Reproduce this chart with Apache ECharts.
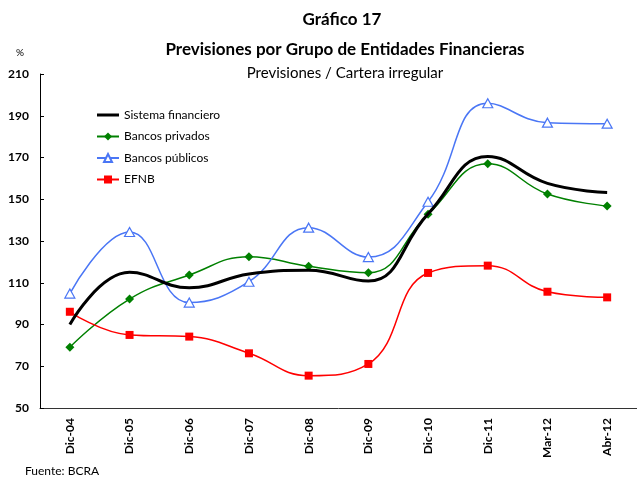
<!DOCTYPE html>
<html><head><meta charset="utf-8">
<script src="https://cdn.jsdelivr.net/npm/echarts@6/dist/echarts.min.js"></script>
<style>html,body{margin:0;padding:0;background:#fff}#c{width:637px;height:477px}</style>
</head><body><div id="c"></div>
<script>
const categories = ['Dic-04','Dic-05','Dic-06','Dic-07','Dic-08','Dic-09','Dic-10','Dic-11','Mar-12','Abr-12'];
const sistemaFinanciero = [90, 115, 107.6, 114.2, 116, 110.8, 143, 170.5, 157.6, 153.2];
const bancosPrivados = [79.1, 102.2, 113.7, 122.5, 117.9, 114.8, 142.8, 167, 152.5, 146.8];
const bancosPublicos = [104.8, 134.3, 100.5, 110.5, 136.4, 122.3, 148.8, 196, 186.7, 186.2];
const efnb = [96.1, 85, 84.2, 76.2, 65.5, 71.1, 114.7, 118.2, 105.7, 103];
const yTicks = {min: 50, max: 210, interval: 20};

const FONT = 'Lato, "Open Sans", sans-serif';
const chart = echarts.init(document.getElementById('c'));
chart.setOption({
  animation: false,
  textStyle: {fontFamily: FONT},
  title: [
    {text: 'Gráfico 17', left: 337, top: 6, textAlign: 'center', textStyle: {fontSize: 17, fontWeight: 'bold', color: '#000', fontFamily: FONT}},
    {text: 'Previsiones por Grupo de Entidades Financieras', left: 340, top: 36, textAlign: 'center', textStyle: {fontSize: 17, fontWeight: 'bold', color: '#000', fontFamily: FONT}},
    {text: 'Previsiones / Cartera irregular', left: 340, top: 61, textAlign: 'center', textStyle: {fontSize: 15, fontWeight: 'normal', color: '#000', fontFamily: FONT}},
    {text: '%', left: 11, top: 43, textStyle: {fontSize: 10, fontWeight: 'normal', color: '#000', fontFamily: FONT}},
    {text: 'Fuente: BCRA', left: 20, top: 460, textStyle: {fontSize: 12, fontWeight: 'normal', color: '#000', fontFamily: FONT}}
  ],
  legend: {
    orient: 'vertical', left: 91, top: 104, itemGap: 9.5, itemWidth: 22, itemHeight: 10,
    textStyle: {fontSize: 12, color: '#000', fontFamily: FONT},
    data: [
      {name: 'Sistema financiero', icon: 'path://M0,0 H22 V3 H0 Z'},
      'Bancos privados', 'Bancos públicos', 'EFNB'
    ]
  },
  grid: {left: 40, top: 74, width: 600, height: 334, containLabel: false},
  xAxis: {
    type: 'category', data: categories, boundaryGap: true,
    axisLine: {lineStyle: {color: '#333', width: 1}},
    axisTick: {inside: true, length: 4, lineStyle: {color: '#333'}},
    axisLabel: {rotate: 90, margin: 10, fontSize: 12, fontWeight: 'bold', color: '#000', fontFamily: FONT},
    splitLine: {show: false}
  },
  yAxis: {
    type: 'value', min: yTicks.min, max: yTicks.max, interval: yTicks.interval,
    axisLine: {show: true, lineStyle: {color: '#000', width: 1}},
    axisTick: {show: true, inside: true, length: 4, lineStyle: {color: '#000'}},
    axisLabel: {margin: 11, fontSize: 12, fontWeight: 'bold', color: '#000', fontFamily: FONT},
    splitLine: {show: false}
  },
  series: [
    {name: 'Sistema financiero', type: 'line', data: sistemaFinanciero, smooth: 0.45, symbol: 'none', z: 5,
     lineStyle: {color: '#000', width: 3}, itemStyle: {color: '#000'}},
    {name: 'Bancos privados', type: 'line', data: bancosPrivados, smooth: 0.45, symbol: 'diamond', symbolSize: 9,
     lineStyle: {color: '#008000', width: 1.5}, itemStyle: {color: '#008000'}},
    {name: 'Bancos públicos', type: 'line', data: bancosPublicos, smooth: 0.45, symbol: 'triangle', symbolSize: [10, 9],
     lineStyle: {color: '#4a76f5', width: 1.5}, itemStyle: {color: '#fff', borderColor: '#4a76f5', borderWidth: 1.2}},
    {name: 'EFNB', type: 'line', data: efnb, smooth: 0.45, symbol: 'rect', symbolSize: 8,
     lineStyle: {color: '#ff0000', width: 1.5}, itemStyle: {color: '#ff0000'}}
  ]
});
</script></body></html>
